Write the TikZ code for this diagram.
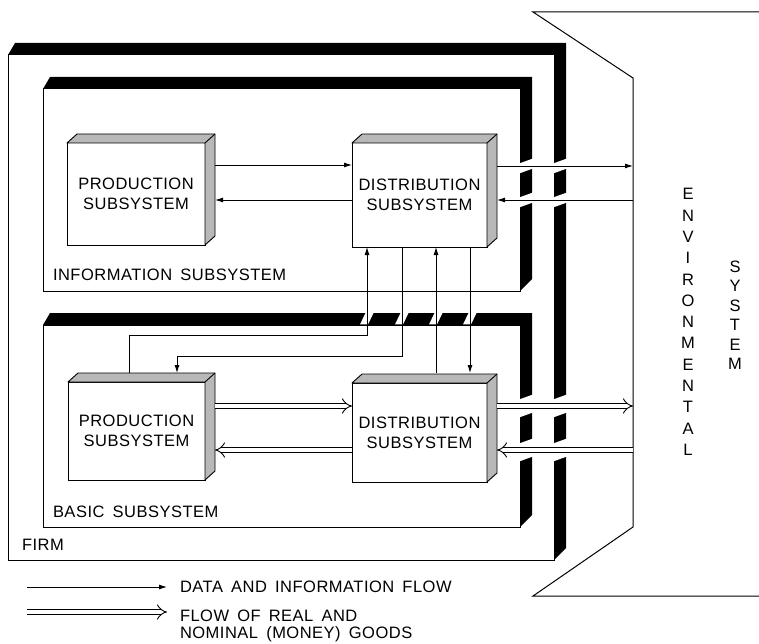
\documentclass[tikz,border=0pt]{standalone}
\usepackage{fontspec}
\setmainfont{Liberation Sans}[LetterSpace=3,WordSpace=1.6]
\usetikzlibrary{arrows.meta,calc}
\newcommand\bshadow[1]{\fill[shad] (#1.north west) -- ++(7,-12) -- ([shift={(12,-12)}]#1.north east) -- ([shift={(12,-12)}]#1.south east) -- (#1.south east) -- (#1.north east) -- cycle;}
\newcommand\xtr[1]{\filldraw[ext] (#1.north west) -- ++(10,-9) -- ([shift={(10,-9)}]#1.north east) -- ([shift={(10,-9)}]#1.south east) -- (#1.south east) -- (#1.north east) -- cycle; \draw[line width=0.9pt] (#1.north east) -- ++(10,-9);}
% gap in a vertical band: #1 band left x, #2 arrow y, #3 half height
\newcommand\hgap[3]{\fill[gap] (#1-1,#2-#3+2.5) -- (#1-1,#2+#3+2.5) -- (#1+13,#2+#3-2.5) -- (#1+13,#2-#3-2.5) -- cycle;}
% gap in the horizontal band of the basic subsystem: #1 line x
\newcommand\vgap[1]{\fill[gap] (#1-7,324.4) -- (#1+1,324.4) -- (#1+7,312) -- (#1-1,312) -- cycle;}
\begin{document}
\begin{tikzpicture}[x=1pt,y=-1pt,
  every node/.style={font=\fontsize{16.5}{20}\selectfont},
  fbox/.style={draw,line width=1pt,fill=white,inner sep=0pt,outer sep=0pt,align=center},
  bigbox/.style={draw,line width=1pt,inner sep=0pt,outer sep=0pt},
  lbl/.style={anchor=west,inner sep=0pt,outer sep=0pt},
  ext/.style={fill=black!28,draw=black,line width=0.9pt,line join=round},
  shad/.style={fill=black,draw=none},
  gap/.style={fill=white,draw=none},
  flow/.style={line width=0.9pt,-{Latex[length=8pt,width=5pt]}},
  goods/.style={double,double distance=4.5pt,line width=0.9pt,-{Implies}},
  envtxt/.style={align=center,inner sep=0pt,font=\fontsize{16.5}{21.3}\selectfont},
]
\useasboundingbox (0,0) rectangle (759,644);

% environmental system
\coordinate (eT) at (633,78);
\coordinate (eB) at (633,527);
\draw[line width=1pt,line join=miter] (759,12) -- (533,12) -- (eT) -- (eB) -- (533,596) -- (759,596);

% big boxes
\node[bigbox,minimum width=546pt,minimum height=505pt] (firm) at (281,307.5) {};
\node[bigbox,minimum width=477pt,minimum height=202pt] (info) at (281.5,190) {};
\node[bigbox,minimum width=477pt,minimum height=202pt] (basic) at (281.5,426) {};
\bshadow{firm}
\bshadow{info}
\bshadow{basic}

% gaps where flows pass through the walls
\hgap{520}{166}{5}
\hgap{520}{200}{5}
\hgap{554}{166}{5}
\hgap{554}{200}{5}
\hgap{520}{406}{9}
\hgap{520}{450}{9}
\hgap{554}{406}{9}
\hgap{554}{450}{9}
\vgap{367}
\vgap{402}
\vgap{436}
\vgap{470}

% subsystems
\node[fbox,minimum width=138pt,minimum height=102pt] (IP) at (136,194) {PRODUCTION\\SUBSYSTEM};
\node[fbox,minimum width=135pt,minimum height=104pt] (ID) at (419.5,195) {DISTRIBUTION\\SUBSYSTEM};
\node[fbox,minimum width=137pt,minimum height=98pt] (BP) at (136.5,431) {PRODUCTION\\SUBSYSTEM};
\node[fbox,minimum width=135pt,minimum height=99pt] (BD) at (419.5,432.5) {DISTRIBUTION\\SUBSYSTEM};
\xtr{IP}
\xtr{ID}
\xtr{BP}
\xtr{BD}

% data and information flows
\draw[flow] ($(IP.east)+(10,-29)$) coordinate (p1) -- (p1 -| ID.west);
\draw[flow] ($(ID.west)+(0,5)$) coordinate (p2) -- ($(p2 -| IP.east)+(10,0)$);
\draw[flow] ($(ID.east)+(10,-29)$) coordinate (p3) -- (p3 -| eT);
\draw[flow] (p2 -| eT) -- ($(p2 -| ID.east)+(10,0)$);
\draw[flow] ($(BP.north)+(-7.5,-9)$) |- ($(ID.south)+(-52.5,88)$) coordinate (c5) -- (c5 |- ID.south);
\draw[flow] ($(ID.south)+(-17.5,0)$) |- ($(BP.north)+(40.5,-26)$) -- ($(BP.north)+(40.5,-9)$);
\draw[flow] ($(BD.north)+(16.5,-10)$) coordinate (c7) -- (c7 |- ID.south);
\draw[flow] ($(ID.south)+(50.5,0)$) coordinate (c8) -- ($(c8 |- BD.north)+(0,-10)$);

% flows of goods
\draw[goods] ($(BP.east)+(10,-25)$) coordinate (g1) -- (g1 -| BD.west);
\draw[goods] ($(BD.west)+(0,17.5)$) coordinate (g2) -- ($(g2 -| BP.east)+(10,0)$);
\draw[goods] ($(BD.east)+(10,-26.5)$) coordinate (g3) -- (g3 -| eT);
\draw[goods] (g2 -| eT) -- ($(g2 -| BD.east)+(10,0)$);

% labels
\node[lbl] (tinfo) at (53,275) {INFORMATION SUBSYSTEM};
\node[lbl] (tbasic) at (53,512) {BASIC SUBSYSTEM};
\node[lbl] (tfirm) at (22,545) {FIRM};
\node[envtxt] (tenv) at (688,322) {E\\N\\V\\I\\R\\O\\N\\M\\E\\N\\T\\A\\L};
\node[envtxt,font=\fontsize{16.5}{19.5}\selectfont] (tsys) at (735,315) {S\\Y\\S\\T\\E\\M};

% legend
\coordinate (la) at (27,587);
\coordinate (lb) at (167,587);
\draw[flow] (la) -- (lb);
\node[lbl] (tl1) at (180,587) {DATA AND INFORMATION FLOW};
\coordinate (lc) at (27,612);
\coordinate (ld) at (167,612);
\draw[goods] (lc) -- (ld);
\node[lbl,align=left,font=\fontsize{16.5}{17}\selectfont] (tl2) at (180,626) {FLOW OF REAL AND\\NOMINAL (MONEY) GOODS};
\end{tikzpicture}
\end{document}
